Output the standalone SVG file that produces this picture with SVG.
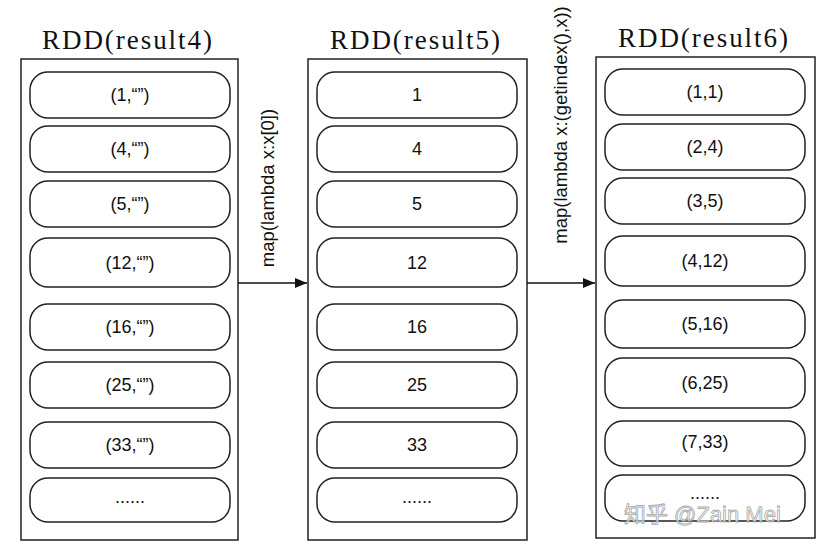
<svg xmlns="http://www.w3.org/2000/svg" width="822" height="546" viewBox="0 0 822 546">
<defs>
<style>
.outer{fill:#fff;stroke:#222;stroke-width:1.5}
.pill{fill:#fff;stroke:#222;stroke-width:1.5}
.t{font-family:"Liberation Sans",Arial,sans-serif;font-size:18px;fill:#111;text-anchor:middle;dominant-baseline:central}
.title{font-family:"Liberation Serif","Times New Roman",serif;font-size:27px;fill:#111;text-anchor:middle}
.lbl{font-family:"Liberation Sans",Arial,sans-serif;font-size:18.5px;fill:#111;text-anchor:middle}
.wm{font-family:"Liberation Sans","Noto Sans CJK SC",sans-serif;font-size:22px;fill:#fff;stroke:#999;stroke-width:0.8;opacity:0.85}
</style>
<marker id="arr" markerWidth="12" markerHeight="10" refX="12" refY="5" orient="auto" markerUnits="userSpaceOnUse">
<path d="M0,0 L12,5 L0,10 Z" fill="#111"/>
</marker>
</defs>
<rect width="822" height="546" fill="#fff"/>

<g id="rdd4">
<text class="title" x="127" y="49" textLength="170" lengthAdjust="spacing">RDD(result4)</text>
<rect class="outer" x="21" y="59" width="217" height="481"/>
<rect class="pill" x="30" y="72" width="200" height="46" rx="18"/><text class="t" x="130" y="95">(1,“”)</text>
<rect class="pill" x="30" y="126" width="200" height="46" rx="18"/><text class="t" x="130" y="149">(4,“”)</text>
<rect class="pill" x="30" y="181" width="200" height="46" rx="18"/><text class="t" x="130" y="204">(5,“”)</text>
<rect class="pill" x="30" y="238" width="200" height="49" rx="18"/><text class="t" x="130" y="263">(12,“”)</text>
<rect class="pill" x="30" y="304" width="200" height="46" rx="18"/><text class="t" x="130" y="327">(16,“”)</text>
<rect class="pill" x="30" y="362" width="200" height="46" rx="18"/><text class="t" x="130" y="385">(25,“”)</text>
<rect class="pill" x="30" y="422" width="200" height="46" rx="18"/><text class="t" x="130" y="445">(33,“”)</text>
<rect class="pill" x="30" y="478" width="200" height="44" rx="18"/><text class="t" x="130" y="497">......</text>
</g>

<g id="rdd5">
<text class="title" x="415" y="49" textLength="170" lengthAdjust="spacing">RDD(result5)</text>
<rect class="outer" x="308" y="59" width="219" height="481"/>
<rect class="pill" x="317" y="72" width="200" height="46" rx="18"/><text class="t" x="417" y="95">1</text>
<rect class="pill" x="317" y="126" width="200" height="46" rx="18"/><text class="t" x="417" y="149">4</text>
<rect class="pill" x="317" y="181" width="200" height="46" rx="18"/><text class="t" x="417" y="204">5</text>
<rect class="pill" x="317" y="238" width="200" height="49" rx="18"/><text class="t" x="417" y="263">12</text>
<rect class="pill" x="317" y="304" width="200" height="46" rx="18"/><text class="t" x="417" y="327">16</text>
<rect class="pill" x="317" y="362" width="200" height="46" rx="18"/><text class="t" x="417" y="385">25</text>
<rect class="pill" x="317" y="422" width="200" height="46" rx="18"/><text class="t" x="417" y="445">33</text>
<rect class="pill" x="317" y="478" width="200" height="44" rx="18"/><text class="t" x="417" y="497">......</text>
</g>

<g id="rdd6">
<text class="title" x="703" y="47" textLength="170" lengthAdjust="spacing">RDD(result6)</text>
<rect class="outer" x="596" y="57" width="219" height="481"/>
<rect class="pill" x="605" y="69" width="200" height="46" rx="18"/><text class="t" x="705" y="92">(1,1)</text>
<rect class="pill" x="605" y="124" width="200" height="46" rx="18"/><text class="t" x="705" y="147">(2,4)</text>
<rect class="pill" x="605" y="178" width="200" height="46" rx="18"/><text class="t" x="705" y="201">(3,5)</text>
<rect class="pill" x="605" y="236" width="200" height="50" rx="18"/><text class="t" x="705" y="261">(4,12)</text>
<rect class="pill" x="605" y="300" width="200" height="48" rx="18"/><text class="t" x="705" y="324">(5,16)</text>
<rect class="pill" x="605" y="358" width="200" height="50" rx="18"/><text class="t" x="705" y="383">(6,25)</text>
<rect class="pill" x="605" y="421" width="200" height="45" rx="18"/><text class="t" x="705" y="442">(7,33)</text>
<rect class="pill" x="605" y="475" width="200" height="46" rx="18"/><text class="t" x="705" y="493">......</text>
</g>

<g id="connectors">
<line x1="238" y1="283" x2="307" y2="283" stroke="#111" stroke-width="1.3" marker-end="url(#arr)"/>
<text class="lbl" transform="translate(274,188) rotate(-90)">map(lambda x:x[0])</text>
<line x1="527" y1="283" x2="595" y2="283" stroke="#111" stroke-width="1.3" marker-end="url(#arr)"/>
<text class="lbl" transform="translate(567,125) rotate(-90)">map(lambda x:(getindex(),x))</text>
</g>

<text class="wm" x="624" y="522">知乎 @Zain Mei</text>
</svg>
